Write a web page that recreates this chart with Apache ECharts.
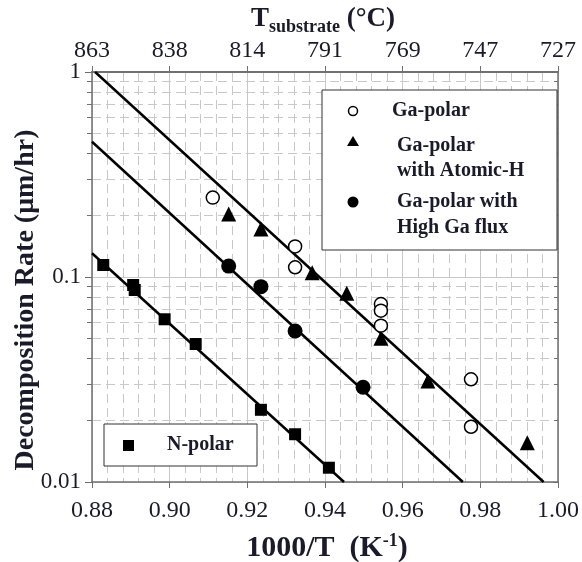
<!DOCTYPE html>
<html>
<head>
<meta charset="utf-8">
<script src="https://cdn.jsdelivr.net/npm/echarts@6/dist/echarts.min.js"></script>
<style>
  html, body { margin: 0; padding: 0; background: #fff; }
  #chart { width: 582px; height: 562px; }
</style>
</head>
<body>
<div id="chart"></div>
<script>
// Arrhenius plot of GaN decomposition rate: x = 1000/T (1/K), y = rate (um/hr, log)
var xTicks = [0.88, 0.90, 0.92, 0.94, 0.96, 0.98, 1.00];
var topTickLabels = ['863', '838', '814', '791', '769', '747', '727'];
var yTickLabels = { 1: '1', 0.1: '0.1', 0.01: '0.01' };

// Ga-polar (open circles)
var gaPolarX = [0.9111, 0.9323, 0.9323, 0.9544, 0.9544, 0.9544, 0.9776, 0.9776];
var gaPolarY = [0.244, 0.141, 0.1115, 0.0738, 0.0685, 0.0579, 0.0317, 0.0186];

// Ga-polar with atomic hydrogen (triangles)
var atomicHX = [0.9152, 0.9235, 0.9367, 0.9456, 0.9544, 0.9665, 0.9921];
var atomicHY = [0.203, 0.1715, 0.105, 0.0832, 0.0502, 0.0311, 0.01555];

// Ga-polar with high Ga flux (filled circles)
var highGaX = [0.9152, 0.9235, 0.9323, 0.9498];
var highGaY = [0.113, 0.0897, 0.0545, 0.029];

// N-polar (squares)
var nPolarX = [0.8829, 0.8906, 0.8910, 0.8987, 0.9067, 0.9235, 0.9323, 0.9410];
var nPolarY = [0.1144, 0.0914, 0.0864, 0.0622, 0.0471, 0.0225, 0.0171, 0.01174];

// Fitted Arrhenius lines, given by their end points
var fitGaPolar = [[0.8808, 1.0], [0.9963, 0.01]];
var fitHighGa = [[0.8800, 0.457], [0.9755, 0.01]];
var fitNPolar = [[0.8800, 0.1305], [0.9449, 0.01]];

function pairs(xs, ys) {
  return xs.map(function (x, i) { return [x, ys[i]]; });
}

var serif = '"Liberation Serif", "Times New Roman", serif';
var gridColor = '#c8c8c8';
var axisColor = '#707070';
var textColor = '#1a1a2a';

var chart = echarts.init(document.getElementById('chart'), null, { renderer: 'canvas' });

function lineSeries(data) {
  return {
    type: 'line', data: data, xAxisIndex: 0, yAxisIndex: 0,
    symbol: 'none', silent: true, z: 3,
    lineStyle: { color: '#000', width: 2.5 }
  };
}

function scatterSeries(name, data, symbol, size, filled) {
  return {
    name: name, type: 'scatter', data: data, xAxisIndex: 0, yAxisIndex: 0,
    symbol: symbol, symbolSize: size, z: 4,
    itemStyle: filled
      ? { color: '#000', opacity: 1 }
      : { color: '#fff', borderColor: '#000', borderWidth: 1.5, opacity: 1 }
  };
}

var option = {
  backgroundColor: '#fff',
  animation: false,
  grid: { left: 92, right: 22, top: 72, bottom: 80, containLabel: false },
  xAxis: [
    {
      type: 'value', position: 'bottom', min: 0.88, max: 1.00, interval: 0.02,
      axisLine: { show: true, lineStyle: { color: axisColor, width: 1.5 } },
      axisTick: { show: true, inside: false, length: 6, lineStyle: { color: axisColor } },
      minorTick: { show: true, splitNumber: 5, length: 0 },
      axisLabel: {
        margin: 17, fontFamily: serif, fontSize: 24, color: textColor,
        formatter: function (v) { return v.toFixed(2); }
      },
      splitLine: { show: true, lineStyle: { color: gridColor, width: 1 } },
      minorSplitLine: { show: true, lineStyle: { color: gridColor, width: 1, type: [9, 5] } }
    },
    {
      type: 'value', position: 'top', min: 0.88, max: 1.00, interval: 0.02,
      axisLine: { show: true, lineStyle: { color: axisColor, width: 2 } },
      axisTick: { show: true, inside: false, length: 6, lineStyle: { color: axisColor } },
      axisLabel: {
        margin: 9, fontFamily: serif, fontSize: 24, color: textColor,
        formatter: function (v) {
          var i = Math.round((v - xTicks[0]) / 0.02);
          return topTickLabels[i] || '';
        }
      },
      splitLine: { show: false }
    }
  ],
  yAxis: [
    {
      type: 'log', logBase: 10, min: 0.01, max: 1, position: 'left',
      axisLine: { show: true, lineStyle: { color: axisColor, width: 1.5 } },
      axisTick: { show: true, inside: false, length: 7, lineStyle: { color: axisColor } },
      minorTick: { show: true, splitNumber: 9, length: 5, lineStyle: { color: axisColor } },
      axisLabel: {
        margin: 11, fontFamily: serif, fontSize: 23, color: textColor,
        formatter: function (v) {
          return yTickLabels[v] !== undefined ? yTickLabels[v] : '';
        }
      },
      splitLine: { show: true, lineStyle: { color: gridColor, width: 1 } },
      minorSplitLine: { show: true, lineStyle: { color: gridColor, width: 1, type: [9, 5] } }
    },
    {
      type: 'log', logBase: 10, min: 0.01, max: 1, position: 'right',
      axisLine: { show: true, lineStyle: { color: axisColor, width: 1.5 } },
      axisTick: { show: true, inside: true, length: 5, lineStyle: { color: axisColor } },
      minorTick: { show: true, splitNumber: 9, length: 4, lineStyle: { color: axisColor } },
      axisLabel: { show: false },
      splitLine: { show: false }
    }
  ],
  series: [
    lineSeries(fitGaPolar),
    lineSeries(fitHighGa),
    lineSeries(fitNPolar),
    scatterSeries('Ga-polar', pairs(gaPolarX, gaPolarY), 'circle', 13, false),
    scatterSeries('Ga-polar with Atomic-H', pairs(atomicHX, atomicHY), 'triangle', 15, true),
    scatterSeries('Ga-polar with High Ga flux', pairs(highGaX, highGaY), 'circle', 15, true),
    scatterSeries('N-polar', pairs(nPolarX, nPolarY), 'rect', 12, true)
  ],
  graphic: [
    // top axis title: T_substrate (°C)
    {
      type: 'text', x: 323, y: 3, z: 10,
      style: {
        text: '{big|T}{sub|substrate}{big| (\u00b0C)}',
        align: 'center',
        rich: {
          big: { fontFamily: serif, fontSize: 27, fontWeight: 'bold', fill: textColor, lineHeight: 32 },
          sub: { fontFamily: serif, fontSize: 18, fontWeight: 'bold', fill: textColor, padding: [16, 0, 0, 0], lineHeight: 32 }
        }
      }
    },
    // left axis title
    {
      type: 'text', x: 26, y: 300, z: 10, rotation: Math.PI / 2,
      style: {
        text: 'Decomposition Rate (\u03bcm/hr)',
        fontFamily: serif, fontSize: 28, fontWeight: 'bold', fill: textColor,
        align: 'center', verticalAlign: 'middle'
      }
    },
    // bottom axis title: 1000/T (K^-1)
    {
      type: 'text', x: 327, y: 532, z: 10,
      style: {
        text: '{b|1000/T  (K}{sup|-1}{b|)}',
        align: 'center',
        rich: {
          b: { fontFamily: serif, fontSize: 30, fontWeight: 'bold', fill: textColor, lineHeight: 32 },
          sup: { fontFamily: serif, fontSize: 18, fontWeight: 'bold', fill: textColor, padding: [0, 0, 14, 0], lineHeight: 32 }
        }
      }
    },
    // legend box for the Ga-polar series
    {
      type: 'rect', z: 20,
      shape: { x: 322, y: 90, width: 235, height: 160 },
      style: { fill: '#fff', stroke: '#333', lineWidth: 1 }
    },
    { type: 'circle', z: 21, shape: { cx: 353, cy: 111, r: 4.5 }, style: { fill: '#fff', stroke: '#000', lineWidth: 1.5 } },
    { type: 'polygon', z: 21, shape: { points: [[353, 136], [359, 146], [347, 146]] }, style: { fill: '#000' } },
    { type: 'circle', z: 21, shape: { cx: 353, cy: 202, r: 5.5 }, style: { fill: '#000' } },
    {
      type: 'text', z: 21, x: 392, y: 111,
      style: { text: 'Ga-polar', fontFamily: serif, fontSize: 20, fontWeight: 'bold', fill: textColor, verticalAlign: 'middle' }
    },
    {
      type: 'text', z: 21, x: 397, y: 158,
      style: { text: 'Ga-polar\nwith Atomic-H', fontFamily: serif, fontSize: 20, fontWeight: 'bold', fill: textColor, verticalAlign: 'middle', lineHeight: 25 }
    },
    {
      type: 'text', z: 21, x: 397, y: 215,
      style: { text: 'Ga-polar with\nHigh Ga flux', fontFamily: serif, fontSize: 20, fontWeight: 'bold', fill: textColor, verticalAlign: 'middle', lineHeight: 26 }
    },
    // legend box for the N-polar series
    {
      type: 'rect', z: 20,
      shape: { x: 104, y: 424, width: 153, height: 42 },
      style: { fill: '#fff', stroke: '#333', lineWidth: 1 }
    },
    { type: 'rect', z: 21, shape: { x: 123, y: 440, width: 11, height: 11 }, style: { fill: '#000' } },
    {
      type: 'text', z: 21, x: 167, y: 445,
      style: { text: 'N-polar', fontFamily: serif, fontSize: 20, fontWeight: 'bold', fill: textColor, verticalAlign: 'middle' }
    }
  ]
};

chart.setOption(option);
</script>
</body>
</html>
